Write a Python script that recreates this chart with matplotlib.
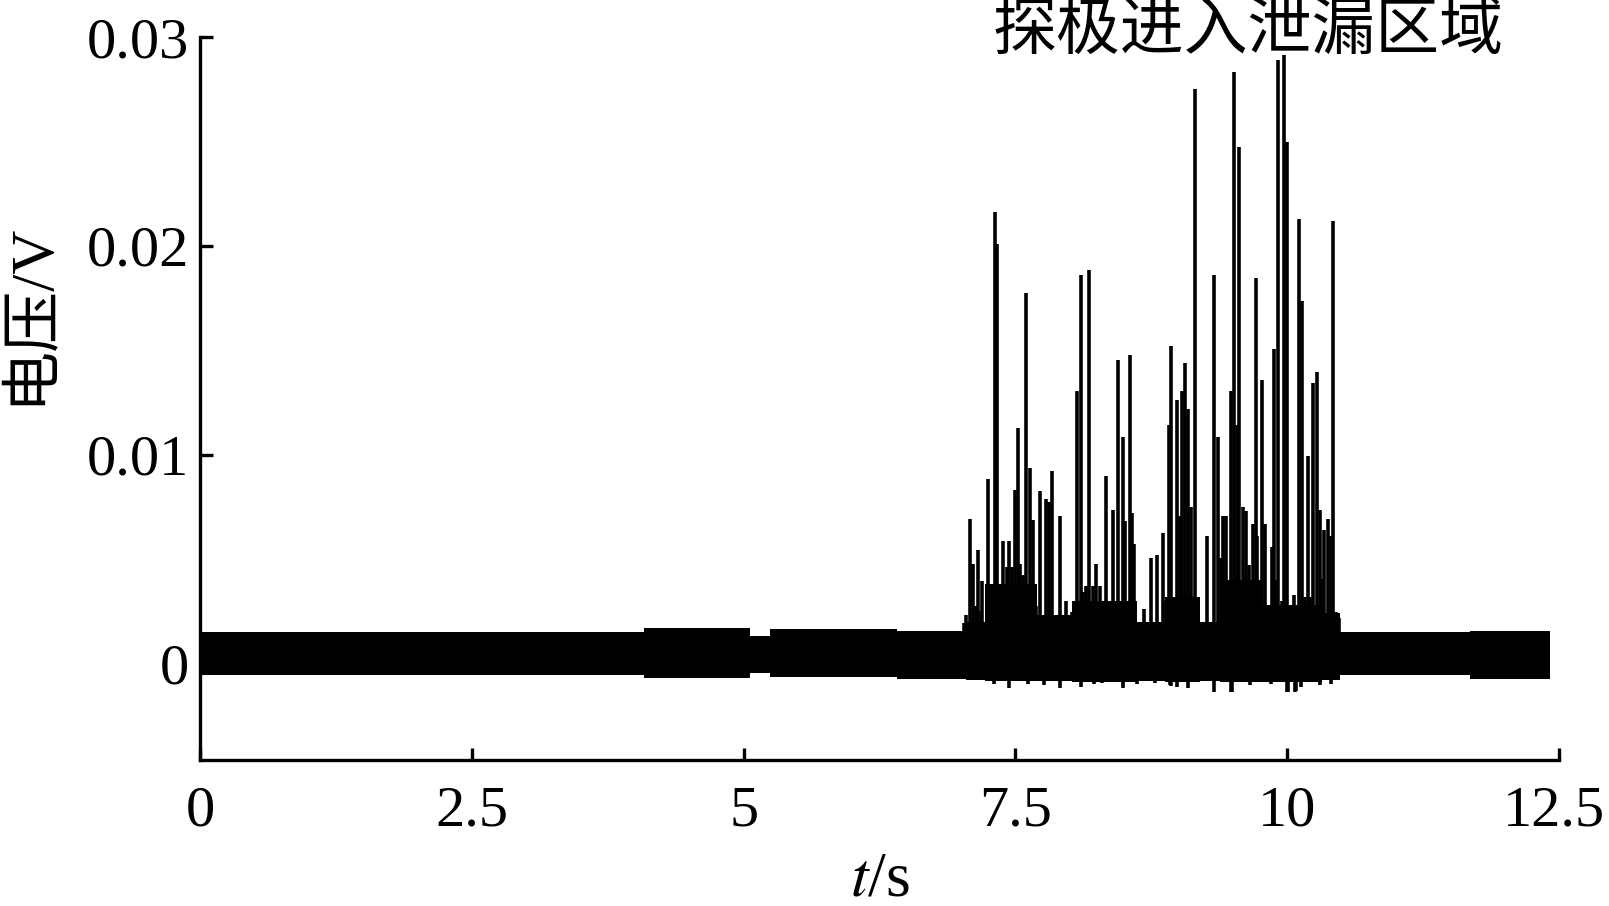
import matplotlib
matplotlib.use('Agg')
import matplotlib.pyplot as plt
from matplotlib.transforms import ScaledTranslation

plt.rcParams['font.family'] = ['Liberation Serif', 'Noto Sans CJK SC']
plt.rcParams['mathtext.fontset'] = 'stix'

# ---------------- data ----------------
# baseline noise band, piecewise: start time, end time, upper and lower edge (V)
band_start = [0.00, 4.08, 5.06, 5.24, 6.41, 7.05, 7.22, 7.70, 8.02, 8.62,
              8.88, 9.20, 9.38, 9.78, 10.32, 10.49, 11.68]
band_end   = [4.08, 5.06, 5.24, 6.41, 7.05, 7.22, 7.70, 8.02, 8.62, 8.88,
              9.20, 9.38, 9.78, 10.32, 10.49, 11.68, 12.42]
band_upper = [0.00152, 0.00170, 0.00130, 0.00165, 0.00155, 0.00200, 0.00380,
              0.00230, 0.00300, 0.00200, 0.00320, 0.00200, 0.00400, 0.00280,
              0.00240, 0.00152, 0.00155]
band_lower = [-0.00055, -0.00070, -0.00045, -0.00065, -0.00075, -0.00080,
              -0.00085, -0.00085, -0.00090, -0.00085, -0.00090, -0.00085,
              -0.00090, -0.00090, -0.00080, -0.00055, -0.00075]

# positive spikes inside the leak region: time (s) and peak voltage (V)
spike_t = [7.03, 7.05, 7.08, 7.11, 7.14, 7.16, 7.18, 7.19, 7.25, 7.31, 7.33,
           7.39, 7.42, 7.44, 7.47, 7.50, 7.52, 7.545, 7.57, 7.60, 7.63, 7.66,
           7.69, 7.73, 7.78, 7.81, 7.84, 7.91, 7.97, 8.02, 8.07, 8.10, 8.12,
           8.15, 8.18, 8.21, 8.24, 8.28, 8.33, 8.36, 8.38, 8.40, 8.44, 8.49,
           8.51, 8.55, 8.57, 8.59, 8.63, 8.68, 8.75, 8.80, 8.83, 8.86, 8.89,
           8.91, 8.93, 8.95, 8.99, 9.01, 9.03, 9.06, 9.09, 9.12, 9.15, 9.19,
           9.23, 9.26, 9.30, 9.33, 9.36, 9.39, 9.41, 9.44, 9.46, 9.48, 9.51,
           9.535, 9.555, 9.59, 9.62, 9.65, 9.69, 9.71, 9.72, 9.77, 9.79, 9.80,
           9.83, 9.86, 9.88, 9.90, 9.92, 9.95, 9.97, 10.00, 10.04, 10.06, 10.09,
           10.11, 10.14, 10.16, 10.19, 10.21, 10.24, 10.27, 10.30, 10.32, 10.34,
           10.38, 10.40, 10.42, 10.45, 10.48]
spike_v = [0.00194, 0.00232, 0.00692, 0.00476, 0.00277, 0.00543, 0.00250, 0.00395,
           0.00882, 0.02160, 0.02010, 0.00588, 0.00460, 0.00588, 0.00463, 0.00831,
           0.01127, 0.00476, 0.00424, 0.01776, 0.00935, 0.00687, 0.00277, 0.00828,
           0.00788, 0.00775, 0.00920, 0.00706, 0.00299, 0.00245, 0.01305, 0.01858,
           0.00344, 0.00370, 0.01885, 0.00370, 0.00476, 0.00370, 0.00898, 0.00250,
           0.00200, 0.00735, 0.01452, 0.01085, 0.00682, 0.01478, 0.00719, 0.00571,
           0.00180, 0.00259, 0.00504, 0.00518, 0.00190, 0.00626, 0.00300, 0.01140,
           0.01520, 0.00230, 0.01262, 0.00706, 0.01305, 0.01439, 0.01220, 0.00748,
           0.02752, 0.00180, 0.00190, 0.00610, 0.00190, 0.01860, 0.01085, 0.00504,
           0.00706, 0.00706, 0.00300, 0.01305, 0.02832, 0.01140, 0.02471, 0.00750,
           0.00730, 0.00470, 0.00666, 0.01847, 0.00610, 0.01358, 0.00230, 0.00666,
           0.00230, 0.00559, 0.01505, 0.00400, 0.02891, 0.00300, 0.02915, 0.02497,
           0.00230, 0.00328, 0.00210, 0.02130, 0.01737, 0.00320, 0.00994, 0.00320,
           0.01342, 0.01398, 0.00735, 0.00405, 0.00639, 0.00692, 0.00610, 0.02117,
           0.00245, 0.00217]

# negative dips: time (s) and minimum voltage (V)
dip_t = [7.16, 7.30, 7.44, 7.62, 7.76, 7.91, 8.10, 8.22, 8.30, 8.35, 8.49,
         8.62, 8.78, 8.92, 8.93, 8.99, 9.09, 9.13, 9.33, 9.48, 9.49, 9.66,
         9.85, 10.00, 10.01, 10.07, 10.08, 10.13, 10.30, 10.40]
dip_v = [-0.00080, -0.00100, -0.00119, -0.00100, -0.00105, -0.00119, -0.00111,
         -0.00100, -0.00095, -0.00080, -0.00119, -0.00100, -0.00095, -0.00104,
         -0.00110, -0.00111, -0.00119, -0.00090, -0.00136, -0.00136, -0.00136,
         -0.00104, -0.00100, -0.00136, -0.00136, -0.00136, -0.00130, -0.00111,
         -0.00105, -0.00100]

xticks = [0, 2.5, 5, 7.5, 10, 12.5]
xtick_labels = ['0', '2.5', '5', '7.5', '10', '12.5']
yticks = [0, 0.01, 0.02, 0.03]
ytick_labels = ['0', '0.01', '0.02', '0.03']

annotation = '探极进入泄漏区域'
ylabel = '电压/V'
xlabel = '$t$/s'

# ---------------- figure ----------------
fig = plt.figure(figsize=(16.09, 9.06), dpi=100)
ax = fig.add_axes([0.1243, 0.1611, 0.8446, 0.798])

for s, e, u, l in zip(band_start, band_end, band_upper, band_lower):
    ax.fill_between([s, e], [l, l], [u, u], color='black', linewidth=0)

ax.vlines(spike_t, 0, spike_v, color='black', linewidth=2.6)
ax.vlines(dip_t, dip_v, 0, color='black', linewidth=2.6)

ax.set_xlim(0, 12.5)
ax.set_ylim(-0.00463, 0.03)
ax.set_xticks(xticks)
ax.set_xticklabels(xtick_labels)
ax.set_yticks(yticks)
ax.set_yticklabels(ytick_labels)

for side in ['top', 'right']:
    ax.spines[side].set_visible(False)
for side in ['left', 'bottom']:
    ax.spines[side].set_linewidth(2.4)

ax.tick_params(axis='both', direction='in', length=9, width=2.4,
               labelsize=42, colors='black')
ax.tick_params(axis='x', pad=18)
ax.tick_params(axis='y', pad=8)

# keep the last x tick label inside the figure, as in the reference
last = ax.get_xticklabels()[-1]
last.set_transform(last.get_transform() + ScaledTranslation(-0.05, 0, fig.dpi_scale_trans))

fig.text(1248 / 1609, 1 - 33 / 906, annotation, ha='center', va='center',
         fontsize=46)
fig.text(31 / 1609, 1 - 313 / 906, ylabel, rotation=90, ha='center',
         va='center', fontsize=44)
fig.text(880 / 1609, 1 - 880 / 906, xlabel, ha='center', va='center',
         fontsize=46)

fig.savefig('out.png', dpi=100)
